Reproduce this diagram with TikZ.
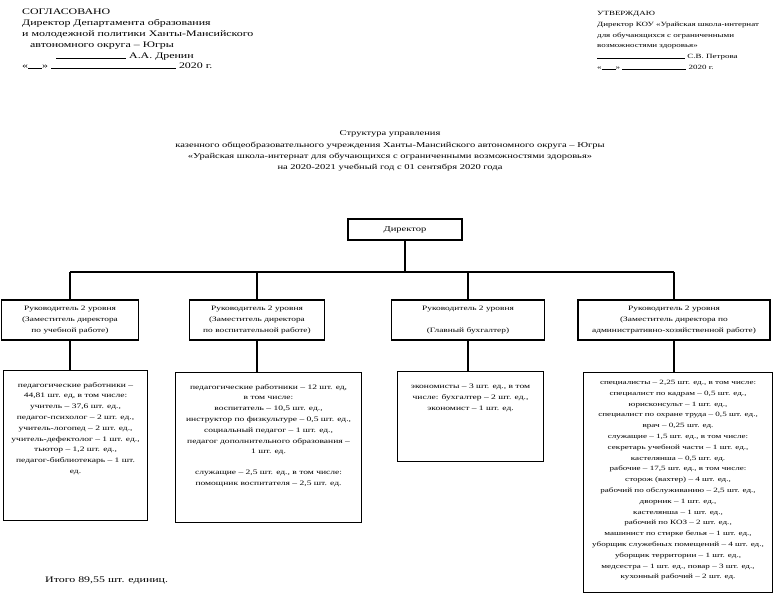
\documentclass[tikz,border=0pt]{standalone}
\usepackage{fontspec}
\setmainfont[FakeStretch=1.4]{Liberation Serif}
\usepackage{tikz}
\usetikzlibrary{positioning}

\tikzset{
  lvlbox/.style={draw, line width=1.1pt, align=center, inner sep=2pt,
    font=\fontsize{6.7}{11}\selectfont},
  staffbox/.style={draw, line width=1.1pt, anchor=north west},
  stafftext/.style={align=center, inner sep=0pt,
    font=\fontsize{6.8}{10.8}\selectfont},
  headtext/.style={align=left, anchor=north west, inner sep=0pt,
    font=\fontsize{8.5}{10.8}\selectfont},
  link/.style={line width=1.1pt}
}

\begin{document}
\begin{tikzpicture}[x=1pt,y=-1pt]
        \useasboundingbox (0,0) rectangle (779,596);

        % Approval stamps
        \node[headtext] (agreed) at (22,9) {СОГЛАСОВАНО\\
          Директор Департамента образования\\
          и молодежной политики Ханты-Мансийского\\
          \hspace*{8pt}автономного округа -- Югры\\
          \hspace*{34pt}\rule{70pt}{0.4pt} А.А. Дренин\\
          «\rule{14pt}{0.4pt}» \rule{125pt}{0.4pt} 2020 г.};
        \node[headtext, font=\fontsize{6.4}{10.8}\selectfont] (approved) at (597,11) {УТВЕРЖДАЮ\\
          Директор КОУ «Урайская школа-интернат\\
          для обучающихся с ограниченными\\
          возможностями здоровья»\\
          \rule{88pt}{0.4pt} С.В. Петрова\\
          «\rule{14pt}{0.4pt}» \rule{64pt}{0.4pt} 2020 г.};

        % Title
        \node[align=center, inner sep=0pt, font=\fontsize{7.5}{11.2}\selectfont]
          (title) at (390,151) {Структура управления\\
          казенного общеобразовательного учреждения Ханты-Мансийского автономного округа -- Югры\\
          «Урайская школа-интернат для обучающихся с ограниченными возможностями здоровья»\\
          на 2020-2021 учебный год с 01 сентября 2020 года};

        % Director
        \node[lvlbox, minimum width=114, minimum height=21, font=\fontsize{7.5}{11}\selectfont]
          (dir) at (405,229.5) {Директор};

        % Level 2 heads
        \node[lvlbox, minimum width=137, minimum height=40] (r1) at (70,320)
          {Руководитель 2 уровня\\(Заместитель директора\\по учебной работе)};
        \node[lvlbox, minimum width=135, minimum height=40] (r2) at (257,320)
          {Руководитель 2 уровня\\(Заместитель директора\\по воспитательной работе)};
        \node[lvlbox, minimum width=153, minimum height=40] (r3) at (468,320)
          {Руководитель 2 уровня\\[11pt](Главный бухгалтер)};
        \node[lvlbox, minimum width=192, minimum height=40] (r4) at (674,320)
          {Руководитель 2 уровня\\(Заместитель директора по\\административно-хозяйственной работе)};

        % Bus from director
        \coordinate (bus) at (405,272);
        \draw[link] (dir) -- (bus);
        \draw[link] (bus -| r1) -- (bus -| r4);
        \foreach \n in {r1,r2,r3,r4} {
            \draw[link] (bus -| \n) -- (\n.north);
        }

        % Staff boxes
        \node[staffbox, minimum width=144, minimum height=150] (s1) at (3,370) {};
        \node[staffbox, minimum width=186, minimum height=150] (s2) at (175,372) {};
        \node[staffbox, minimum width=146, minimum height=90] (s3) at (397,371) {};
        \node[staffbox, minimum width=189, minimum height=220] (s4) at (583,372) {};

        \foreach \n in {1,2,3,4} {
            \draw[link] (r\n.south) -- (r\n.south |- s\n.north);
        }

        % Staff lists
        \node[stafftext, below=12pt of s1.north] (t1) {педагогические работники --\\
          44,81 шт. ед, в том числе:\\
          учитель -- 37,6 шт. ед.,\\
          педагог-психолог -- 2 шт. ед.,\\
          учитель-логопед -- 2 шт. ед.,\\
          учитель-дефектолог -- 1 шт. ед.,\\
          тьютор -- 1,2 шт. ед.,\\
          педагог-библиотекарь -- 1 шт.\\
          ед.};
        \node[stafftext, below=12pt of s2.north] (t2) {педагогические работники -- 12 шт. ед,\\
          в том числе:\\
          воспитатель -- 10,5 шт. ед.,\\
          инструктор по физкультуре -- 0,5 шт. ед.,\\
          социальный педагог -- 1 шт. ед.,\\
          педагог дополнительного образования --\\
          1 шт. ед.\\[10pt]
          служащие -- 2,5 шт. ед., в том числе:\\
          помощник воспитателя -- 2,5 шт. ед.};
        \node[stafftext, below=13pt of s3.north] (t3) {экономисты -- 3 шт. ед., в том\\
          числе: бухгалтер -- 2 шт. ед.,\\
          экономист -- 1 шт. ед.};
        \node[stafftext, below=8pt of s4.north, font=\fontsize{6.5}{10.8}\selectfont] (t4)
          {специалисты -- 2,25 шт. ед., в том числе:\\
          специалист по кадрам -- 0,5 шт. ед.,\\
          юрисконсульт -- 1 шт. ед.,\\
          специалист по охране труда -- 0,5 шт. ед.,\\
          врач -- 0,25 шт. ед.\\
          служащие -- 1,5 шт. ед., в том числе:\\
          секретарь учебной части -- 1 шт. ед.,\\
          кастелянша -- 0,5 шт. ед.\\
          рабочие -- 17,5 шт. ед., в том числе:\\
          сторож (вахтер) -- 4 шт. ед.,\\
          рабочий по обслуживанию -- 2,5 шт. ед.,\\
          дворник -- 1 шт. ед.,\\
          кастелянша -- 1 шт. ед.,\\
          рабочий по КОЗ -- 2 шт. ед.,\\
          машинист по стирке белья -- 1 шт. ед.,\\
          уборщик служебных помещений -- 4 шт. ед.,\\
          уборщик территории -- 1 шт. ед.,\\
          медсестра -- 1 шт. ед., повар -- 3 шт. ед.,\\
          кухонный рабочий -- 2 шт. ед.};

        % Total
        \node[anchor=west, inner sep=0pt, font=\fontsize{8.5}{9}\selectfont] (total) at (45,580)
          {Итого 89,55 шт. единиц.};
\end{tikzpicture}
\end{document}
